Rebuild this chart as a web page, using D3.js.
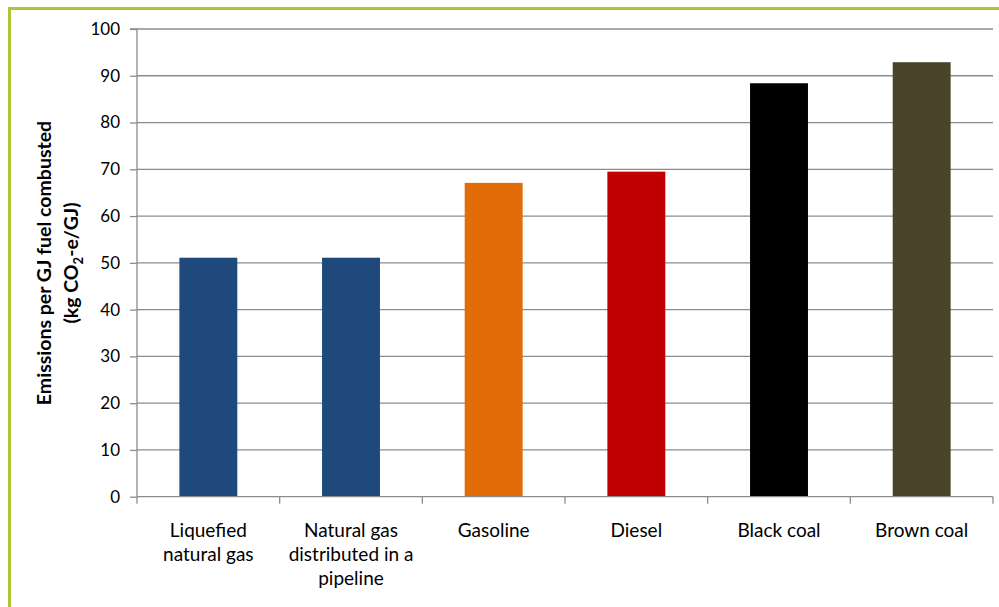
<!DOCTYPE html>
<html>
<head>
<meta charset="utf-8">
<script src="https://cdn.jsdelivr.net/npm/d3@7"></script>
<style>
  html, body { margin: 0; padding: 0; background: #fff; }
  svg { display: block; font-family: Lato, "Open Sans", sans-serif; }
</style>
</head>
<body>
<svg id="chart" width="999" height="607"></svg>
<script>
// Fuel categories (each label broken into display lines)
const categories = [
  ["Liquefied", "natural gas"],
  ["Natural gas", "distributed in a", "pipeline"],
  ["Gasoline"],
  ["Diesel"],
  ["Black coal"],
  ["Brown coal"]
];
// kg CO2-e per GJ of fuel combusted
const emissions = [51.1, 51.1, 67.1, 69.5, 88.4, 92.9];
const barColors = ["#1f497d", "#1f497d", "#e36c09", "#c00000", "#000000", "#4a452a"];
const yTicks = [0, 10, 20, 30, 40, 50, 60, 70, 80, 90, 100];

const svg = d3.select("#chart");
const W = 999, H = 607;
const m = { left: 137, top: 29 };
const plotRight = 993, plotBottom = 496.7;

// frame
svg.append("rect")
  .attr("x", 9.5).attr("y", 8.5)
  .attr("width", W + 20).attr("height", H + 20)
  .attr("fill", "none").attr("stroke", "#b3c337").attr("stroke-width", 3);

const keys = categories.map((d, i) => i);
const x = d3.scaleBand().domain(keys).range([m.left, plotRight]).paddingInner(0.594).paddingOuter(0.297);
const xBand = d3.scaleBand().domain(keys).range([m.left, plotRight]);
const y = d3.scaleLinear().domain([0, 100]).range([plotBottom, m.top]);

// gridlines
svg.append("g").selectAll("line").data(yTicks.filter(t => t > 0)).join("line")
  .attr("x1", m.left).attr("x2", plotRight)
  .attr("y1", d => y(d)).attr("y2", d => y(d))
  .attr("stroke", "#8c8c8c").attr("stroke-width", 1.3);

// bars
svg.append("g").selectAll("rect").data(emissions).join("rect")
  .attr("x", (d, i) => x(i))
  .attr("width", x.bandwidth())
  .attr("y", d => y(d))
  .attr("height", d => plotBottom - y(d))
  .attr("fill", (d, i) => barColors[i]);

// y axis
const yAxis = d3.axisLeft(y).tickValues(yTicks).tickSize(7).tickPadding(10);
const gy = svg.append("g").attr("transform", `translate(${m.left},0)`).call(yAxis);
gy.select(".domain").attr("stroke", "#8c8c8c").attr("stroke-width", 1.3).attr("d", `M-7,${m.top}H0V${plotBottom}`);
gy.selectAll(".tick line").attr("stroke", "#8c8c8c").attr("stroke-width", 1.3);
gy.selectAll(".tick text").attr("font-size", 17).attr("fill", "#000").attr("font-family", "Lato, sans-serif");

// x axis
const gx = svg.append("g").attr("transform", `translate(0,${plotBottom})`);
gx.append("line").attr("x1", m.left).attr("x2", plotRight).attr("y1", 0).attr("y2", 0)
  .attr("stroke", "#8c8c8c").attr("stroke-width", 1.3);
const tickXs = keys.map(i => xBand(i)).concat([plotRight]);
gx.selectAll("line.tk").data(tickXs).join("line").attr("class", "tk")
  .attr("x1", d => d).attr("x2", d => d).attr("y1", 0).attr("y2", 7)
  .attr("stroke", "#8c8c8c").attr("stroke-width", 1.3);
gx.selectAll("text.lab").data(categories).join("text").attr("class", "lab")
  .attr("text-anchor", "middle").attr("font-size", 19).attr("fill", "#000")
  .attr("transform", (d, i) => `translate(${xBand(i) + xBand.bandwidth() / 2},40)`)
  .each(function(lines) {
    d3.select(this).selectAll("tspan").data(lines).join("tspan")
      .attr("x", 0).attr("dy", (l, j) => j === 0 ? 0 : 24).text(l => l);
  });

// y axis title
const title = svg.append("text")
  .attr("transform", "translate(51,263) rotate(-90)")
  .attr("text-anchor", "middle").attr("font-size", 19.5).attr("font-weight", "bold").attr("fill", "#000");
title.append("tspan").attr("x", 0).attr("dy", 0).text("Emissions per GJ fuel combusted");
const l2 = title.append("tspan").attr("x", 0).attr("dy", 27);
l2.append("tspan").text("(kg CO");
l2.append("tspan").attr("font-size", 13).attr("dy", 5).text("2");
l2.append("tspan").attr("dy", -5).text("-e/GJ)");
</script>
</body>
</html>
